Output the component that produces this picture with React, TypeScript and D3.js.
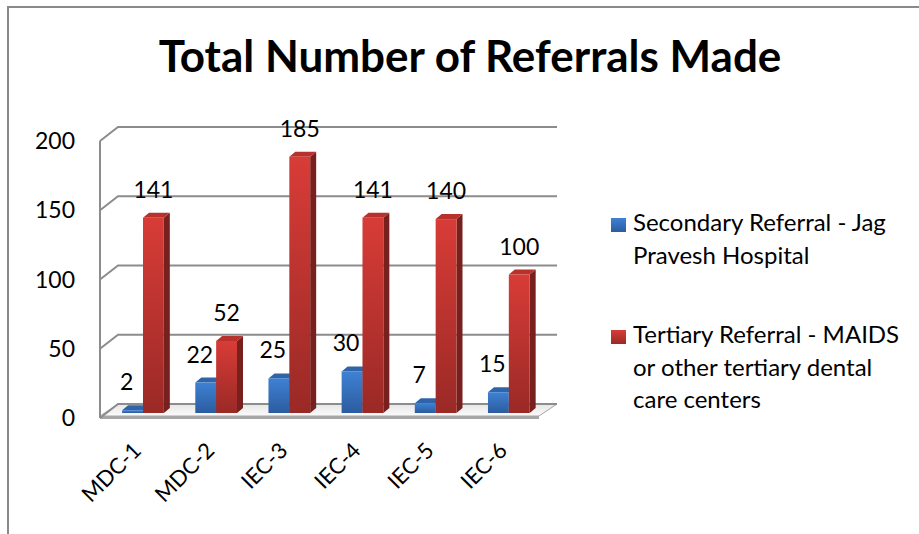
import React from "react";
import * as d3 from "d3";

const WIDTH = 919;
const HEIGHT = 534;
const FONT = "Lato, 'Open Sans', sans-serif";

const categories = ["MDC-1", "MDC-2", "IEC-3", "IEC-4", "IEC-5", "IEC-6"];
const secondaryValues = [2, 22, 25, 30, 7, 15];
const tertiaryValues = [141, 52, 185, 141, 140, 100];
const yTicks = [0, 50, 100, 150, 200];
const seriesNames = [
  ["Secondary Referral - Jag", "Pravesh Hospital"],
  ["Tertiary Referral - MAIDS", "or other tertiary dental", "care centers"],
];

// back wall of the 3d box
const BACK = { left: 118, right: 557, top: 127, bottom: 404 };
// offsets of the front plane and of the bar plane relative to the back wall
const FRONT_DX = -18;
const FRONT_DY = 14;
const BAR_DX = -11.6;
const BAR_DY = 9;
// depth of a single bar
const DEPTH_DX = 6;
const DEPTH_DY = -5;

const COLORS = {
  blue: { top: "#3f81d4", bottom: "#2b5c9f", cap: "#2f64a8", side: "#23487c" },
  red: { top: "#d83c37", bottom: "#9a2926", cap: "#b8312d", side: "#77201d" },
};

export default function App() {
  const yScale = d3.scaleLinear().domain([0, 200]).range([BACK.bottom, BACK.top]);

  const xScale = d3
    .scaleBand<string>()
    .domain(categories)
    .range([BACK.left + BAR_DX, BACK.right + BAR_DX])
    .paddingInner(0.43)
    .paddingOuter(0.215);

  const barW = xScale.bandwidth() / 2;
  const series = [
    { key: "blue", values: secondaryValues, offset: 0, labelDx: -6 },
    { key: "red", values: tertiaryValues, offset: barW, labelDx: 0 },
  ] as const;

  const floorFront = yScale(0) + FRONT_DY - 2;

  const bar = (x: number, v: number, c: { cap: string; side: string }, grad: string, key: string) => {
    const yb = yScale(0) + BAR_DY;
    const yt = yScale(v) + BAR_DY;
    const x1 = x + barW;
    return (
      <g key={key}>
        <polygon
          points={`${x1},${yt} ${x1 + DEPTH_DX},${yt + DEPTH_DY} ${x1 + DEPTH_DX},${yb + DEPTH_DY} ${x1},${yb}`}
          fill={c.side}
        />
        <polygon
          points={`${x},${yt} ${x + DEPTH_DX},${yt + DEPTH_DY} ${x1 + DEPTH_DX},${yt + DEPTH_DY} ${x1},${yt}`}
          fill={c.cap}
        />
        <rect x={x} y={yt} width={barW} height={yb - yt} fill={`url(#${grad})`} />
      </g>
    );
  };

  return (
    <svg width={WIDTH} height={HEIGHT} style={{ position: "absolute", left: 0, top: 0 }} fontFamily={FONT}>
      <defs>
        {(["blue", "red"] as const).map((k) => (
          <linearGradient key={k} id={`grad-${k}`} x1="0" y1="0" x2="0" y2="1">
            <stop offset="0%" stopColor={COLORS[k].top} />
            <stop offset="100%" stopColor={COLORS[k].bottom} />
          </linearGradient>
        ))}
        <linearGradient id="floor" x1="0" y1="0" x2="0" y2="1">
          <stop offset="0%" stopColor="#e6e6e6" />
          <stop offset="100%" stopColor="#fbfbfb" />
        </linearGradient>
      </defs>
      <rect width={WIDTH} height={HEIGHT} fill="#fff" />
      {/* chart border */}
      <path d={`M8,${HEIGHT} V7 H${WIDTH}`} fill="none" stroke="#8a8a8a" strokeWidth={2} />

      <text x={470} y={72} textAnchor="middle" fontSize={44} fontWeight="bold" fill="#000">
        Total Number of Referrals Made
      </text>

      {/* floor */}
      <polygon
        points={`${BACK.left},${BACK.bottom} ${BACK.right},${BACK.bottom} ${BACK.right + FRONT_DX},${floorFront} ${BACK.left + FRONT_DX},${floorFront}`}
        fill="url(#floor)"
        stroke="#a6a6a6"
        strokeWidth={1}
      />
      <rect x={BACK.left + FRONT_DX} y={floorFront} width={BACK.right - BACK.left} height={3} fill="#a6a6a6" />

      {/* gridlines: back wall + side wall */}
      {yTicks.map((t) => (
        <path
          key={t}
          d={`M${BACK.left + FRONT_DX},${yScale(t) + FRONT_DY} L${BACK.left},${yScale(t)} H${BACK.right}`}
          fill="none"
          stroke="#8c8c8c"
          strokeWidth={2}
        />
      ))}
      <line
        x1={BACK.left + FRONT_DX}
        x2={BACK.left + FRONT_DX}
        y1={yScale(200) + FRONT_DY}
        y2={yScale(0) + FRONT_DY}
        stroke="#8c8c8c"
        strokeWidth={2}
      />

      {/* y tick labels */}
      {yTicks.map((t) => (
        <text key={t} x={75} y={yScale(t) + FRONT_DY + 8} textAnchor="end" fontSize={23} fill="#000">
          {t}
        </text>
      ))}

      {/* bars */}
      {categories.map((c, i) =>
        series.map((s) =>
          bar(xScale(c)! + s.offset, s.values[i], COLORS[s.key], `grad-${s.key}`, `${c}-${s.key}`)
        )
      )}

      {/* data labels */}
      {categories.map((c, i) =>
        series.map((s) => (
          <text
            key={`${c}-${s.key}-l`}
            x={xScale(c)! + s.offset + barW / 2 + s.labelDx}
            y={yScale(s.values[i]) + BAR_DY - 20}
            textAnchor="middle"
            fontSize={23}
            fill="#000"
          >
            {s.values[i]}
          </text>
        ))
      )}

      {/* category labels */}
      {categories.map((c) => {
        const x = xScale(c)! + barW + FRONT_DX - BAR_DX + 6;
        const y = yScale(0) + FRONT_DY + 34;
        return (
          <text key={c} transform={`translate(${x},${y}) rotate(-45)`} textAnchor="end" fontSize={22} fill="#000">
            {c}
          </text>
        );
      })}

      {/* legend */}
      {seriesNames.map((lines, i) => {
        const y0 = [231, 343][i];
        const k = i === 0 ? "blue" : "red";
        return (
          <g key={i}>
            <rect x={611} y={y0 - 13} width={15} height={14} fill={`url(#grad-${k})`} />
            {lines.map((l, j) => (
              <text key={j} x={633} y={y0 + j * 32.5} fontSize={24} fill="#000">
                {l}
              </text>
            ))}
          </g>
        );
      })}
    </svg>
  );
}
